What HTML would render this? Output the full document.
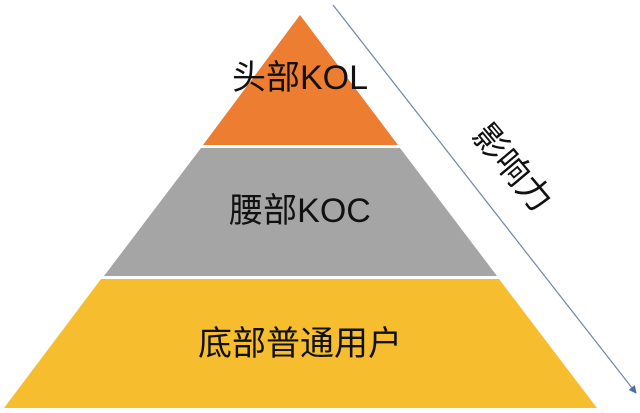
<!DOCTYPE html>
<html><head><meta charset="utf-8"><style>
html,body{margin:0;padding:0;background:#fff;}
svg{display:block;}
text{font-family:"Liberation Sans","Noto Sans CJK SC",sans-serif;fill:#111;}
</style></head><body>
<svg width="640" height="413" viewBox="0 0 640 413">
<defs><marker id="a" markerWidth="8" markerHeight="8" refX="7" refY="4" orient="auto" markerUnits="userSpaceOnUse"><path d="M0,0 L8,4 L0,8 z" fill="#4a6fa5"/></marker></defs>
<polygon points="300,15 398,145 203,145" fill="#ed7d31"/>
<polygon points="201,148 400,148 497,276 104,276" fill="#a5a5a6"/>
<polygon points="101,279 499,279 597,408 4,408" fill="#f6bd2f"/>
<line x1="333" y1="5" x2="636" y2="393" stroke="#6f87a8" stroke-width="1.2" marker-end="url(#a)"/>
<text x="300" y="89" font-size="34" text-anchor="middle">头部KOL</text>
<text x="300" y="222" font-size="34" text-anchor="middle">腰部KOC</text>
<text x="300" y="355" font-size="34" text-anchor="middle">底部普通用户</text>
<text x="0" y="0" font-size="34" text-anchor="middle" dominant-baseline="central" transform="translate(512,168) rotate(50)">影响力</text>
</svg>
</body></html>
